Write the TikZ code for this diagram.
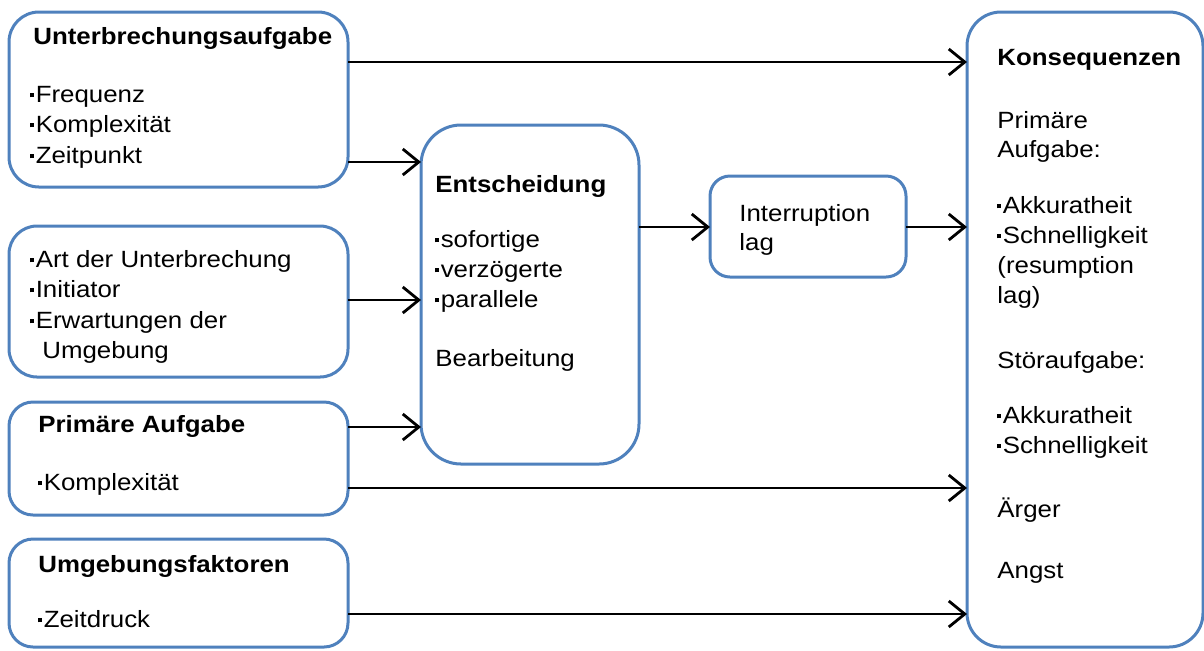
\documentclass[tikz,border=0pt]{standalone}
\usepackage{fontspec}
\setmainfont{Liberation Sans}[FakeStretch=1.1]
\usetikzlibrary{arrows.meta,fit}
\definecolor{boxblue}{RGB}{79,129,189}
\newcommand\bul{\raisebox{0.2em}{\rule{0.17em}{0.17em}}\hspace{0.06em}}
\begin{document}
\begin{tikzpicture}[x=0.5pt,y=-0.5pt,
  box/.style={draw=boxblue, line width=1.5pt, fill=white, inner sep=0pt, outer sep=0pt},
  arr/.style={line width=1.4pt, -{Straight Barb[length=8pt,width=13pt]}},
  txt/.style={anchor=base west, inner sep=0pt, text=black, font=\fontsize{11.75pt}{15pt}\selectfont},
  ttl/.style={txt, font=\fontsize{11.75pt}{15pt}\selectfont\bfseries}]
\useasboundingbox (0,0) rectangle (1204,650);

% boxes
\node[box, rounded corners=15pt, fit={(9,12)(348,187)}] (b1) {};
\node[box, rounded corners=14pt, fit={(9,226)(348,377)}] (b2) {};
\node[box, rounded corners=12pt, fit={(9,402)(348,515)}] (b3) {};
\node[box, rounded corners=12pt, fit={(9,539)(348,647)}] (b4) {};
\node[box, rounded corners=20pt, fit={(421,125)(639,464)}] (ent) {};
\node[box, rounded corners=10pt, fit={(710,176)(906,277)}] (intr) {};
\node[box, rounded corners=17pt, fit={(967,12)(1203,647)}] (kons) {};

% row coordinates
\coordinate (r62) at (0,62);
\coordinate (r162) at (0,162);
\coordinate (r227) at (0,227);
\coordinate (r300) at (0,300);
\coordinate (r427) at (0,427);
\coordinate (r488) at (0,488);
\coordinate (r614) at (0,614);

% connectors
\draw[arr] (b1.east |- r62) -- (kons.west |- r62);
\draw[arr] (b1.east |- r162) -- (ent.west |- r162);
\draw[arr] (b2.east |- r300) -- (ent.west |- r300);
\draw[arr] (b3.east |- r427) -- (ent.west |- r427);
\draw[arr] (b3.east |- r488) -- (kons.west |- r488);
\draw[arr] (b4.east |- r614) -- (kons.west |- r614);
\draw[arr] (ent.east |- r227) -- (intr.west |- r227);
\draw[arr] (intr.east |- r227) -- (kons.west |- r227);

% texts box 1
\node[ttl] (t1a) at (33,44) {Unterbrechungsaufgabe};
\node[txt] (t1b) at (30,102) {\bul Frequenz};
\node[txt] (t1c) at (30,132) {\bul Komplexität};
\node[txt] (t1d) at (30,163) {\bul Zeitpunkt};
% box 2
\node[txt] (t2a) at (30,267) {\bul Art der Unterbrechung};
\node[txt] (t2b) at (30,297) {\bul Initiator};
\node[txt] (t2c) at (30,328) {\bul Erwartungen der};
\node[txt] (t2d) at (42,358) {Umgebung};
% box 3
\node[ttl] (t3a) at (38,432) {Primäre Aufgabe};
\node[txt] (t3b) at (38,490) {\bul Komplexität};
% box 4
\node[ttl] (t4a) at (38,572) {Umgebungsfaktoren};
\node[txt] (t4b) at (38,627) {\bul Zeitdruck};
% Entscheidung
\node[ttl] (tea) at (435,192) {Entscheidung};
\node[txt] (teb) at (435,247) {\bul sofortige};
\node[txt] (tec) at (435,277) {\bul verzögerte};
\node[txt] (ted) at (435,307) {\bul parallele};
\node[txt] (tee) at (435,366) {Bearbeitung};
% Interruption lag
\node[txt] (tia) at (739,221) {Interruption};
\node[txt] (tib) at (739,250) {lag};
% Konsequenzen
\node[ttl] (tka) at (997,65) {Konsequenzen};
\node[txt] (tkb) at (997,128) {Primäre};
\node[txt] (tkc) at (997,157) {Aufgabe:};
\node[txt] (tkd) at (997,213) {\bul Akkuratheit};
\node[txt] (tke) at (997,243) {\bul Schnelligkeit};
\node[txt] (tkf) at (997,273) {(resumption};
\node[txt] (tkg) at (997,303) {lag)};
\node[txt] (tkh) at (997,368) {Störaufgabe:};
\node[txt] (tki) at (997,423) {\bul Akkuratheit};
\node[txt] (tkj) at (997,453) {\bul Schnelligkeit};
\node[txt] (tkk) at (997,517) {Ärger};
\node[txt] (tkl) at (997,578) {Angst};
\end{tikzpicture}
\end{document}
